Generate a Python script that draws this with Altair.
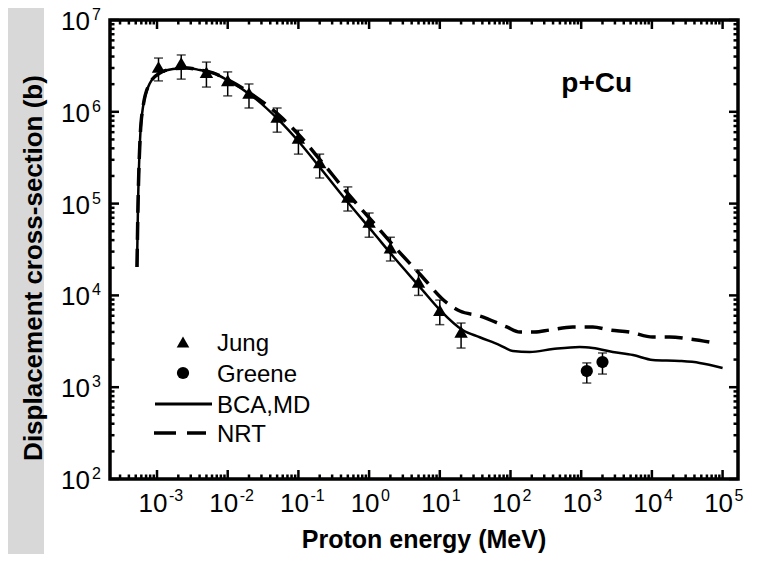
import altair as alt
import pandas as pd

# ---------------- data ----------------
jung_e = [1.05e-3, 2.2e-3, 5.0e-3, 1.0e-2, 2.0e-2, 5.0e-2, 0.1, 0.2, 0.5, 1.0, 2.0, 5.0, 10.0, 20.0]
jung_s = [3.08e6, 3.4e6, 2.7e6, 2.2e6, 1.6e6, 8.8e5, 5.2e5, 2.8e5, 1.18e5, 6.3e4, 3.3e4, 1.4e4, 6.9e3, 4.0e3]
jung_lo = [2.17e6, 2.27e6, 1.86e6, 1.49e6, 1.10e6, 6.0e5, 3.46e5, 1.9e5, 8.3e4, 4.3e4, 2.37e4, 1.0e4, 4.8e3, 2.67e3]
jung_hi = [3.85e6, 4.16e6, 3.48e6, 2.72e6, 2.01e6, 1.10e6, 6.3e5, 3.46e5, 1.52e5, 7.9e4, 4.3e4, 1.89e4, 8.9e3, 5.0e3]

greene_e = [1.2e3, 2.0e3]
greene_s = [1.5e3, 1.88e3]
greene_lo = [1.11e3, 1.39e3]
greene_hi = [1.84e3, 2.36e3]

bca_e = [5.21e-4, 5.38e-4, 5.75e-4, 6.34e-4, 7.96e-4, 1.10e-3, 1.68e-3, 2.65e-3, 4.05e-3, 6.19e-3,
         1.04e-2, 2.2e-2, 5.3e-2, 0.105, 0.215, 0.535, 1.13, 2.24, 5.2, 10.3, 21.0, 36.7, 70.0,
         108.0, 187.0, 396.0, 953.0, 1.46e3, 2.8e3, 5.4e3, 1.03e4, 2.47e4, 4.73e4, 1.0e5]
bca_s = [2.04e4, 9.2e4, 4.93e5, 1.13e6, 2.06e6, 2.65e6, 2.93e6, 3.0e6, 2.85e6, 2.65e6,
         2.17e6, 1.49e6, 8.1e5, 4.57e5, 2.32e5, 9.7e4, 4.9e4, 2.6e4, 1.24e4, 6.8e3, 4.2e3, 3.5e3, 2.88e3,
         2.48e3, 2.42e3, 2.6e3, 2.74e3, 2.67e3, 2.42e3, 2.24e3, 1.98e3, 1.93e3, 1.84e3, 1.62e3]

nrt_e = [5.21e-4, 5.38e-4, 5.75e-4, 6.34e-4, 7.96e-4, 1.10e-3, 1.68e-3, 2.65e-3, 4.05e-3, 6.19e-3,
         1.04e-2, 2.2e-2, 5.3e-2, 0.105, 0.215, 0.535, 1.13, 2.24, 5.2, 12.6, 19.2, 36.7, 88.5,
         135.0, 220.0, 359.0, 759.0, 1.46e3, 2.53e3, 4.85e3, 1.03e4, 1.78e4, 3.42e4, 6.55e4]
nrt_s = [2.04e4, 9.2e4, 4.93e5, 1.13e6, 2.06e6, 2.65e6, 2.93e6, 3.0e6, 2.85e6, 2.65e6,
         2.2e6, 1.55e6, 9.2e5, 5.45e5, 2.84e5, 1.21e5, 6.3e4, 3.45e4, 1.71e4, 8.3e3, 6.76e3, 5.97e3, 4.53e3,
         3.99e3, 3.99e3, 4.2e3, 4.53e3, 4.53e3, 4.2e3, 3.99e3, 3.52e3, 3.52e3, 3.35e3, 3.1e3]

x_major = [1e-3, 1e-2, 1e-1, 1e0, 1e1, 1e2, 1e3, 1e4, 1e5]
x_exps = ["-3", "-2", "-1", "0", "1", "2", "3", "4", "5"]
y_major = [1e2, 1e3, 1e4, 1e5, 1e6, 1e7]
y_exps = ["2", "3", "4", "5", "6", "7"]
tick_base = "10"

legend_labels = ["Jung", "Greene", "BCA,MD", "NRT"]
annotation = "p+Cu"
x_title = "Proton energy (MeV)"
y_title = "Displacement cross-section (b)"

# ---------------- layout ----------------
W, H = 628, 459
FONT = "Liberation Sans"
XMIN, XMAX = 10 ** -3.665, 10 ** 5.218
YMIN, YMAX = 1e2, 1e7

xscale = alt.Scale(type="log", domain=[XMIN, XMAX], nice=False)
yscale = alt.Scale(type="log", domain=[YMIN, YMAX], nice=False)

x_minor = [k * 10.0 ** d for d in range(-4, 6) for k in range(2, 10) if XMIN < k * 10.0 ** d < XMAX]
y_minor = [k * 10.0 ** d for d in range(2, 7) for k in range(2, 10)]

jung = pd.DataFrame({"e": jung_e, "s": jung_s, "lo": jung_lo, "hi": jung_hi})
greene = pd.DataFrame({"e": greene_e, "s": greene_s, "lo": greene_lo, "hi": greene_hi})
bca = pd.DataFrame({"e": bca_e, "s": bca_s})
nrt = pd.DataFrame({"e": nrt_e, "s": nrt_s})
dxmaj = pd.DataFrame({"v": x_major, "t": x_exps, "b": tick_base})
dymaj = pd.DataFrame({"v": y_major, "t": y_exps, "b": tick_base})
dxmin = pd.DataFrame({"v": x_minor})
dymin = pd.DataFrame({"v": y_minor})
one = pd.DataFrame({"a": [0]})

X = lambda f: alt.X(f, type="quantitative", scale=xscale, axis=None)
Y = lambda f: alt.Y(f, type="quantitative", scale=yscale, axis=None)

layers = []

# grey strip at the left edge (slide background)
layers.append(alt.Chart(one).mark_rect(color="#d8d8d8").encode(
    x=alt.value(-102), x2=alt.value(-66), y=alt.value(-12), y2=alt.value(H + 75)))

# tick labels: "10" plus raised exponent
layers.append(alt.Chart(dxmaj).mark_text(font=FONT, fontSize=26, align="center", baseline="top",
                                         dx=-4, color="black").encode(
    x=X("v"), y=alt.value(H + 12), text="b:N"))
layers.append(alt.Chart(dxmaj).mark_text(font=FONT, fontSize=16, align="left", baseline="middle",
                                         dx=12, color="black").encode(
    x=X("v"), y=alt.value(H + 17), text="t:N"))
layers.append(alt.Chart(dymaj).mark_text(font=FONT, fontSize=26, align="right", baseline="middle",
                                         dy=2, color="black").encode(
    x=alt.value(-20), y=Y("v"), text="b:N"))
layers.append(alt.Chart(dymaj).mark_text(font=FONT, fontSize=16, align="left", baseline="middle",
                                         dy=-5, color="black").encode(
    x=alt.value(-18), y=Y("v"), text="t:N"))

# axis titles
layers.append(alt.Chart(pd.DataFrame({"t": [x_title]})).mark_text(
    font=FONT, fontSize=25, fontWeight="bold", align="center", baseline="alphabetic", color="black").encode(
    x=alt.value(W / 2), y=alt.value(528), text="t:N"))
layers.append(alt.Chart(pd.DataFrame({"t": [y_title]})).mark_text(
    font=FONT, fontSize=26, fontWeight="bold", align="center", baseline="middle", angle=270,
    color="black").encode(x=alt.value(-76), y=alt.value(248), text="t:N"))

# inward ticks on all four sides
TW = 2.5
layers.append(alt.Chart(dxmaj).mark_rule(color="black", strokeWidth=TW).encode(
    x=X("v"), y=alt.value(H), y2=alt.value(H - 9)))
layers.append(alt.Chart(dxmaj).mark_rule(color="black", strokeWidth=TW).encode(
    x=X("v"), y=alt.value(0), y2=alt.value(9)))
layers.append(alt.Chart(dxmin).mark_rule(color="black", strokeWidth=TW).encode(
    x=X("v"), y=alt.value(H), y2=alt.value(H - 4.5)))
layers.append(alt.Chart(dxmin).mark_rule(color="black", strokeWidth=TW).encode(
    x=X("v"), y=alt.value(0), y2=alt.value(4.5)))
layers.append(alt.Chart(dymaj).mark_rule(color="black", strokeWidth=TW).encode(
    y=Y("v"), x=alt.value(0), x2=alt.value(9)))
layers.append(alt.Chart(dymaj).mark_rule(color="black", strokeWidth=TW).encode(
    y=Y("v"), x=alt.value(W), x2=alt.value(W - 9)))
layers.append(alt.Chart(dymin).mark_rule(color="black", strokeWidth=TW).encode(
    y=Y("v"), x=alt.value(0), x2=alt.value(4.5)))
layers.append(alt.Chart(dymin).mark_rule(color="black", strokeWidth=TW).encode(
    y=Y("v"), x=alt.value(W), x2=alt.value(W - 4.5)))

# curves
layers.append(alt.Chart(nrt).mark_line(color="black", strokeWidth=3.5, strokeDash=[18, 9],
                                       interpolate="monotone").encode(x=X("e"), y=Y("s")))
layers.append(alt.Chart(bca).mark_line(color="black", strokeWidth=2.5,
                                       interpolate="monotone").encode(x=X("e"), y=Y("s")))

# error bars + markers
for df, shape in ((jung, "triangle-up"), (greene, "circle")):
    layers.append(alt.Chart(df).mark_rule(color="black", strokeWidth=1.5).encode(
        x=X("e"), y=Y("lo"), y2="hi"))
    layers.append(alt.Chart(df).mark_tick(color="black", orient="horizontal", size=9, thickness=1.5).encode(
        x=X("e"), y=Y("lo")))
    layers.append(alt.Chart(df).mark_tick(color="black", orient="horizontal", size=9, thickness=1.5).encode(
        x=X("e"), y=Y("hi")))
    layers.append(alt.Chart(df).mark_point(shape=shape, filled=True, color="black", opacity=1,
                                           size=150 if shape == "circle" else 180).encode(
        x=X("e"), y=Y("s")))

# annotation
ann = pd.DataFrame({"e": [1.66e3], "s": [2.0e6], "t": [annotation]})
layers.append(alt.Chart(ann).mark_text(font=FONT, fontSize=28, fontWeight="bold", color="black",
                                       baseline="middle").encode(x=X("e"), y=Y("s"), text="t:N"))

# manual legend
row_y = [322, 353, 384, 413]
for i, lab in enumerate(legend_labels):
    layers.append(alt.Chart(pd.DataFrame({"t": [lab]})).mark_text(
        font=FONT, fontSize=24, align="left", baseline="middle", color="black").encode(
        x=alt.value(107), y=alt.value(row_y[i] + 2), text="t:N"))
layers.append(alt.Chart(one).mark_point(shape="triangle-up", filled=True, color="black", opacity=1,
                                        size=160).encode(x=alt.value(73), y=alt.value(row_y[0])))
layers.append(alt.Chart(one).mark_point(shape="circle", filled=True, color="black", opacity=1,
                                        size=150).encode(x=alt.value(73), y=alt.value(row_y[1])))
layers.append(alt.Chart(one).mark_rule(color="black", strokeWidth=3).encode(
    x=alt.value(45), x2=alt.value(102), y=alt.value(row_y[2])))
layers.append(alt.Chart(one).mark_rule(color="black", strokeWidth=3.5, strokeDash=[22, 11]).encode(
    x=alt.value(44), x2=alt.value(96), y=alt.value(row_y[3])))

chart = alt.layer(*layers).properties(
    width=W, height=H,
    autosize=alt.AutoSizeParams(type="none"),
    padding={"left": 102, "top": 12, "right": 13, "bottom": 75},
    background="white",
).configure_view(stroke="black", strokeWidth=3.5)

chart.save("out.html", embed_options={"renderer": "svg", "actions": False})
